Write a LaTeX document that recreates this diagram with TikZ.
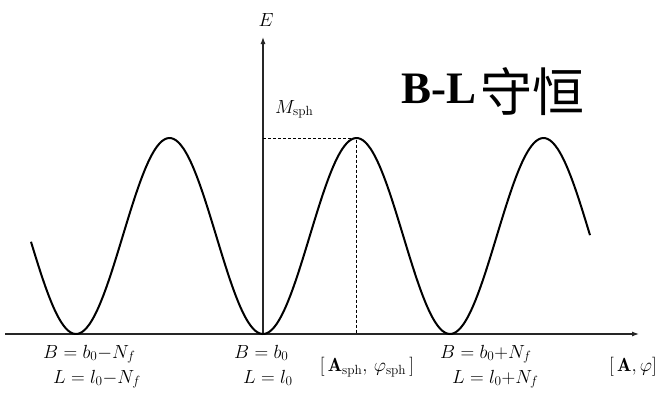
\RequirePackage{fix-cm}
\documentclass[tikz,border=0pt]{standalone}
\usepackage{fontspec}
\newfontfamily\latfont{Liberation Serif}
\newfontfamily\cjk{Noto Sans CJK SC}
\usetikzlibrary{arrows.meta}
\begin{document}
\begin{tikzpicture}[
  x=1pt, y=-1pt,
  axis/.style={line width=1.1pt, draw=black!85, -{Latex[length=7pt,width=5pt]}},
  wave/.style={line width=2pt, draw=black},
  guide/.style={line width=0.9pt, dash pattern=on 3pt off 2pt},
  mlabel/.style={font=\fontsize{19}{22}\selectfont, inner sep=0pt}
]
  % Caja fija con los márgenes de la figura
  \useasboundingbox (0,0) rectangle (663,392);

  % Ejes
  \coordinate (O)  at (263,334);
  \coordinate (xl) at (5,334);
  \coordinate (xr) at (639,334);
  \coordinate (yt) at (263,37);
  \draw[axis] (xl) -- (xr);
  \draw[axis] (O) -- (yt);
  \node[mlabel, anchor=base] (E) at (266,26) {$E$};

  % Potencial periódico (periodo 187)
  \draw[wave] plot[domain=31:590, samples=240, smooth]
    (\x, {236+98*cos(1.92513*(\x-263))});

  % Esfalerón
  \coordinate (peak) at (356.5,138);
  \coordinate (pky)  at (263,138);
  \coordinate (pkx)  at (356.5,334);
  \draw[guide] (pky) -- (peak) -- (pkx);
  \node[mlabel, anchor=base west] (Msph) at (275,113) {$M_{\rm sph}$};

  % Vacíos
  \node[mlabel, anchor=base west] (Bm) at (43,358)  {$B=b_0{-}N_f$};
  \node[mlabel, anchor=base west] (Lm) at (53,383)  {$L=l_0{-}N_f$};
  \node[mlabel, anchor=base west] (B0) at (234,358) {$B=b_0$};
  \node[mlabel, anchor=base west] (L0) at (243,383) {$L=l_0$};
  \node[mlabel, anchor=base west] (Bp) at (440,358) {$B=b_0{+}N_f$};
  \node[mlabel, anchor=base west] (Lp) at (452,383) {$L=l_0{+}N_f$};
  \node[mlabel] (Asph) at (367,367) {$[\,\mathbf{A}_{\rm sph},\,\varphi_{\rm sph}\,]$};
  \node[mlabel] (Aphi) at (633,367) {$[\,\mathbf{A},\varphi]$};

  % Título
  \node[anchor=base west, inner sep=0pt] (BL) at (401,103)
    {\fontsize{45}{50}\selectfont\latfont\bfseries B-L\hspace{4pt}%
     \raisebox{-8pt}{\fontsize{52}{56}\selectfont\cjk\mdseries 守恒}};
\end{tikzpicture}
\end{document}
